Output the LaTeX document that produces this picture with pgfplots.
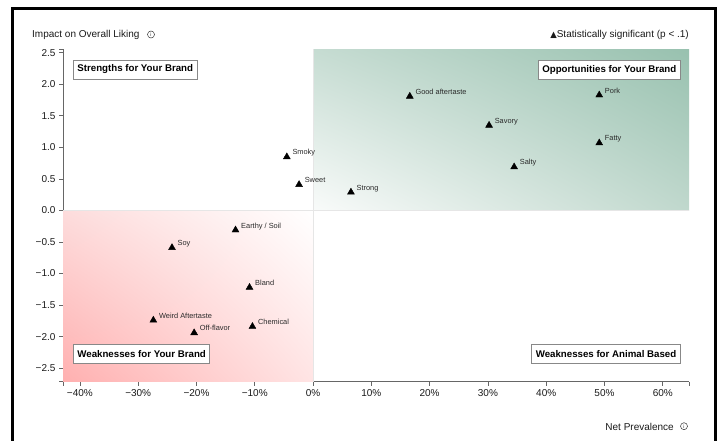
\documentclass[border=0pt]{standalone}
\usepackage{fontspec}
\setmainfont{Liberation Sans}
\newfontfamily\symfont{DejaVu Sans}
\usepackage{pgfplots}
\pgfplotsset{compat=1.18}
\usetikzlibrary{shadings}

\definecolor{axisgray}{HTML}{666666}
\definecolor{tickgray}{HTML}{1A1A1A}
\definecolor{labelgray}{HTML}{2A2A2A}
\definecolor{gridgray}{HTML}{E6E6E6}
\definecolor{boxgray}{HTML}{888888}
\definecolor{gUR}{RGB}{152,193,175}
\definecolor{gUL}{RGB}{198,220,210}
\definecolor{gLR}{RGB}{192,216,205}
\definecolor{gLL}{RGB}{249,251,250}
\definecolor{rLL}{RGB}{255,176,176}
\definecolor{rUL}{RGB}{253,220,220}
\definecolor{rLR}{RGB}{255,228,228}
\definecolor{rUR}{RGB}{255,255,255}

\tikzset{
  qbox/.style={draw=boxgray, line width=0.8pt, fill=white, inner xsep=4pt, inner ysep=0pt,
    minimum height=19pt, text=black, font=\bfseries\fontsize{9.7}{11}\selectfont},
  info/.style={circle, draw=black!80, line width=0.5pt, inner sep=0pt, minimum size=7pt,
    font=\fontsize{5}{5}\selectfont, text=black!80}
}

\begin{document}
\begin{tikzpicture}
\useasboundingbox (0pt,0pt) rectangle (722pt,440pt);
\begin{axis}[
  at={(63pt,58.3pt)}, anchor=south west,
  scale only axis, width=626pt, height=332.7pt,
  xmin=-42.9, xmax=64.5, ymin=-2.715, ymax=2.56,
  axis x line*=bottom, axis y line*=left,
  axis line style={axisgray, line width=0.8pt},
  xtick={-40,-30,-20,-10,0,10,20,30,40,50,60},
  xticklabels={−40\%,−30\%,−20\%,−10\%,0\%,10\%,20\%,30\%,40\%,50\%,60\%},
  ytick={-2.5,-2,-1.5,-1,-0.5,0,0.5,1,1.5,2,2.5},
  yticklabels={−2.5,−2.0,−1.5,−1.0,−0.5,0.0,0.5,1.0,1.5,2.0,2.5},
  extra x ticks={-42.9,64.5}, extra x tick labels={},
  extra y ticks={-2.715,2.56}, extra y tick labels={},
  tick align=outside, major tick length=4pt,
  tick style={axisgray, line width=0.8pt},
  ticklabel style={font=\fontsize{10}{12}\selectfont, text=tickgray},
]
\shade[upper left=gUL, upper right=gUR, lower left=gLL, lower right=gLR]
  (axis cs:0,0) rectangle (axis cs:64.5,2.56);
\shade[upper left=rUL, upper right=rUR, lower left=rLL, lower right=rLR]
  (axis cs:-42.9,-2.715) rectangle (axis cs:0,0);
\draw[gridgray, line width=0.8pt] (axis cs:0,-2.715) -- (axis cs:0,2.56);
\draw[gridgray, line width=0.8pt] (axis cs:-42.9,0) -- (axis cs:64.5,0);

\addplot[only marks, mark=triangle*, mark size=4pt, black,
  point meta=explicit symbolic,
  nodes near coords={\pgfplotspointmeta},
  every node near coord/.append style={anchor=base west, inner sep=0pt,
    xshift=5.5pt, yshift=2pt, font=\fontsize{7.4}{8}\selectfont, text=labelgray}]
coordinates {
  (-4.5,0.85) [Smoky]
  (-2.4,0.41) [Sweet]
  (6.5,0.29) [Strong]
  (16.6,1.81) [Good aftertaste]
  (30.2,1.35) [Savory]
  (34.5,0.69) [Salty]
  (49.1,1.83) [Pork]
  (49.1,1.07) [Fatty]
  (-13.3,-0.31) [Earthy / Soil]
  (-24.2,-0.59) [Soy]
  (-10.9,-1.22) [Bland]
  (-27.4,-1.74) [Weird Aftertaste]
  (-20.4,-1.94) [Off-flavor]
  (-10.4,-1.84) [Chemical]
};
\end{axis}

\node[qbox, anchor=west] at (73pt,370.5pt) {Strengths for Your Brand};
\node[qbox, anchor=east] at (680.7pt,370.3pt) {Opportunities for Your Brand};
\node[qbox, anchor=west] at (73pt,86pt) {Weaknesses for Your Brand};
\node[qbox, anchor=east] at (680.7pt,86pt) {Weaknesses for Animal Based};

\node[anchor=west, inner sep=0pt, font=\fontsize{10}{12}\selectfont, text=tickgray] at (32pt,405pt) {Impact on Overall Liking};
\node[info] at (151pt,405.5pt) {i};
\node[anchor=east, inner sep=0pt, font=\fontsize{10}{12}\selectfont, text=tickgray] at (689pt,405pt) {{\symfont\fontsize{8.5}{10}\selectfont ▲}Statistically significant (p < .1)};
\node[anchor=east, inner sep=0pt, font=\fontsize{10}{12}\selectfont, text=tickgray] at (674pt,13.3pt) {Net Prevalence};
\node[info] at (684pt,13.8pt) {i};

\draw[line width=3pt, black] (12pt,-5pt) -- (12pt,431.7pt) -- (715pt,431.7pt) -- (715pt,-5pt);
\end{tikzpicture}
\end{document}
